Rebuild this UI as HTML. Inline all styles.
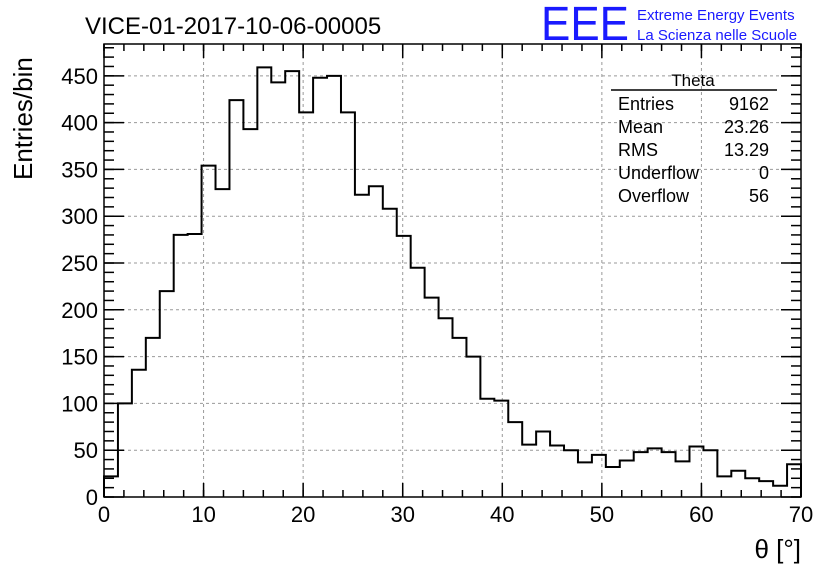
<!DOCTYPE html>
<html><head><meta charset="utf-8"><style>
body{margin:0;background:#fff;}
svg text{font-family:"Liberation Sans",sans-serif;}
</style></head><body>
<svg id="c" width="836" height="572" xmlns="http://www.w3.org/2000/svg">
<rect width="836" height="572" fill="#fff"/>
<g id="grid"></g>
<g id="ticks"></g>
<path id="hist" fill="none" stroke="#000" stroke-width="2"/>
<rect x="104" y="44" width="697" height="453" fill="none" stroke="#000" stroke-width="1.5"/>
<text x="85" y="34" font-size="24">VICE-01-2017-10-06-00005</text>
<text x="541" y="40" font-size="48" fill="#1a1aff" textLength="88" lengthAdjust="spacingAndGlyphs">EEE</text>
<text x="637" y="20" font-size="15" fill="#1a1aff">Extreme Energy Events</text>
<text x="637" y="40" font-size="15" fill="#1a1aff">La Scienza nelle Scuole</text>
<text transform="translate(32,180) rotate(-90)" font-size="26">Entries/bin</text>
<text x="801" y="558" font-size="26" text-anchor="end">θ [°]</text>
<g font-size="18">
<line x1="611" y1="90" x2="777" y2="90" stroke="#000" stroke-width="1.5"/>
<text x="693" y="86" text-anchor="middle" font-size="17">Theta</text>
<text x="618" y="110">Entries</text><text x="769" y="110" text-anchor="end">9162</text>
<text x="618" y="133">Mean</text><text x="769" y="133" text-anchor="end">23.26</text>
<text x="618" y="156">RMS</text><text x="769" y="156" text-anchor="end">13.29</text>
<text x="618" y="179">Underflow</text><text x="769" y="179" text-anchor="end">0</text>
<text x="618" y="202">Overflow</text><text x="769" y="202" text-anchor="end">56</text>
</g>
</svg>
<script>
const binWidth = 1.4;
const counts = [22,100,136,170,220,280,281,354,329,424,393,459,443,455,411,448,450,411,323,332,308,279,245,213,191,170,150,105,103,80,56,70,55,50,37,45,32,39,48,52,48,38,54,50,22,28,20,17,12,35];
const xTicks = [0,10,20,30,40,50,60,70];
const yTicks = [0,50,100,150,200,250,300,350,400,450];
const X0=104,X1=801,Y0=497,Y1=44,XMAX=70,YMAX=484;
const sx=v=>X0+(X1-X0)*v/XMAX;
const sy=v=>Y0-(Y0-Y1)*v/YMAX;
const NS="http://www.w3.org/2000/svg";
const grid=document.getElementById('grid'),ticks=document.getElementById('ticks');
function ln(g,x1,y1,x2,y2,st,w,dash){const l=document.createElementNS(NS,'line');
l.setAttribute('x1',x1);l.setAttribute('y1',y1);l.setAttribute('x2',x2);l.setAttribute('y2',y2);
l.setAttribute('stroke',st);l.setAttribute('stroke-width',w);if(dash)l.setAttribute('stroke-dasharray',dash);g.appendChild(l);return l;}
function tx(x,y,s,anchor){const t=document.createElementNS(NS,'text');t.setAttribute('x',x);t.setAttribute('y',y);
t.setAttribute('font-size','22');t.setAttribute('text-anchor',anchor);t.textContent=s;document.getElementById('c').appendChild(t);return t;}
xTicks.forEach(v=>{const x=sx(v);
 if(v>0&&v<XMAX){const g=ln(grid,x,Y0,x,Y1,'#999',1,'3,3');}
 ln(ticks,x,Y0,x,Y0-14,'#000',1.5);ln(ticks,x,Y1,x,Y1+14,'#000',1.5);
 const t=tx(x,522,String(v),'middle');
 
 
});
for(let v=0;v<=XMAX;v+=2){const x=sx(v);ln(ticks,x,Y0,x,Y0-7,'#000',1.5);ln(ticks,x,Y1,x,Y1+7,'#000',1.5);}
yTicks.forEach(v=>{const y=sy(v);
 if(v>0){const g=ln(grid,X0,y,X1,y,'#999',1,'3,3');}
 ln(ticks,X0,y,X0+20,y,'#000',1.5);ln(ticks,X1,y,X1-20,y,'#000',1.5);
 const t=tx(98,y+8,String(v),'end');
 
 
});
for(let v=0;v<=YMAX;v+=10){const y=sy(v);ln(ticks,X0,y,X0+10,y,'#000',1.5);ln(ticks,X1,y,X1-10,y,'#000',1.5);}
let d='M'+sx(0)+','+sy(0);
counts.forEach((c,i)=>{d+=' L'+sx(i*binWidth)+','+sy(c)+' L'+sx((i+1)*binWidth)+','+sy(c);});
d+=' L'+sx(counts.length*binWidth)+','+sy(0);
document.getElementById('hist').setAttribute('d',d);
</script>
</body></html>
